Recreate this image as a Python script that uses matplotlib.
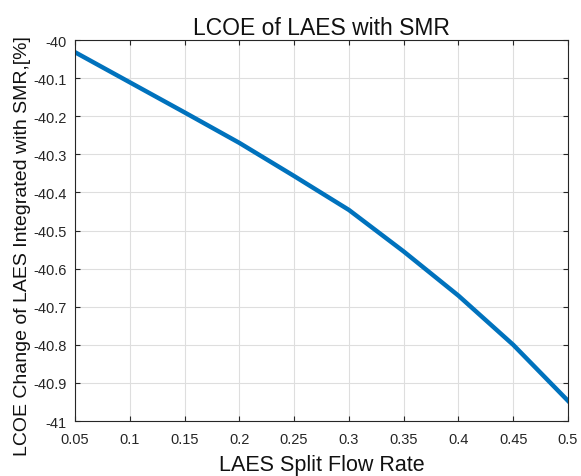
import matplotlib.pyplot as plt
import numpy as np

plt.rcParams['font.family'] = ['Liberation Sans', 'DejaVu Sans']

# data
split_rate = [0.05, 0.1, 0.15, 0.2, 0.25, 0.3, 0.35, 0.4, 0.45, 0.5]
lcoe_change = [-40.032, -40.111, -40.19, -40.27, -40.357, -40.446, -40.555, -40.671, -40.80, -40.947]

xticks = [0.05, 0.1, 0.15, 0.2, 0.25, 0.3, 0.35, 0.4, 0.45, 0.5]
xtick_labels = ['0.05', '0.1', '0.15', '0.2', '0.25', '0.3', '0.35', '0.4', '0.45', '0.5']
yticks = [-41, -40.9, -40.8, -40.7, -40.6, -40.5, -40.4, -40.3, -40.2, -40.1, -40]
ytick_labels = ['-41', '-40.9', '-40.8', '-40.7', '-40.6', '-40.5', '-40.4', '-40.3', '-40.2', '-40.1', '-40']

fig = plt.figure(figsize=(5.81, 4.77), dpi=100)
ax = fig.add_axes([0.1291, 0.1153, 0.8485, 0.7987])

ax.plot(split_rate, lcoe_change, color='#0072BD', linewidth=3.2)

ax.set_xlim(0.05, 0.5)
ax.set_ylim(-41, -40)
ax.set_xticks(xticks)
ax.set_xticklabels(xtick_labels)
ax.set_yticks(yticks)
ax.set_yticklabels(ytick_labels)

ax.grid(True, color='#dedede', linewidth=0.8)
ax.tick_params(direction='in', top=True, right=True, labelsize=10.5,
               colors='#262626', length=3.5)
ax.tick_params(axis='x', pad=8)
ax.tick_params(axis='y', pad=6)
for s in ax.spines.values():
    s.set_color('#262626')
    s.set_linewidth(0.8)

ax.set_title('LCOE of LAES with SMR', fontsize=16.5, color='#111111', pad=4)
ax.set_xlabel('LAES Split Flow Rate', fontsize=15.5, color='#111111')
ax.xaxis.set_label_coords(0.5, -0.086)
ax.set_ylabel('LCOE Change of LAES Integrated with SMR,[%]', fontsize=14,
              color='#111111')
ax.yaxis.set_label_coords(-0.089, 0.463)

fig.savefig('out.png', dpi=100)
